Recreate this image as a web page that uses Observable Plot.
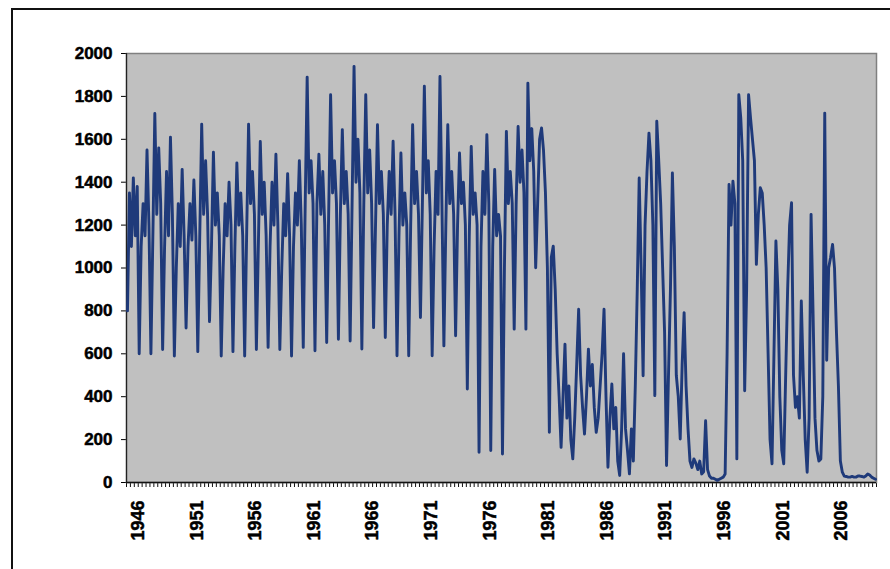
<!DOCTYPE html>
<html><head><meta charset="utf-8">
<script src="https://cdn.jsdelivr.net/npm/d3@7"></script>
<script src="https://cdn.jsdelivr.net/npm/@observablehq/plot@0.6"></script>
<style>
body{margin:0;background:#fff;}
#wrap{position:relative;width:890px;height:569px;overflow:hidden;background:#fff;}
#wrap svg{position:absolute;left:0;top:0;}
#border{position:absolute;left:11px;top:8px;width:900px;height:600px;border-left:2px solid #111;border-top:2px solid #111;pointer-events:none;}
</style></head><body><div id="wrap"><div id="border"></div></div>
<script>
// Six readings per year (two-month steps), first reading early 1945
const startYear = 1945;
const perYear = 6;
const v1940s = [
  800, 1350, 1100, 1420, 1150, 1380,
  600, 1100, 1300, 1150, 1550, 1200,
  600, 1150, 1720, 1250, 1560, 1300,
  620, 1100, 1450, 1150, 1610, 1250,
  590, 1000, 1300, 1100, 1460, 1150
];
const v1950s = [
  720, 1100, 1300, 1130, 1410, 1150,
  610, 1150, 1670, 1250, 1500, 1250,
  750, 1100, 1540, 1200, 1350, 1150,
  590, 1000, 1300, 1150, 1400, 1200,
  610, 1100, 1490, 1200, 1350, 1150,
  590, 1150, 1670, 1300, 1450, 1250,
  620, 1100, 1590, 1250, 1400, 1150,
  630, 1100, 1400, 1200, 1530, 1200,
  620, 1000, 1300, 1150, 1440, 1150,
  590, 1100, 1350, 1200, 1500, 1200
];
const v1960s = [
  630, 1300, 1890, 1350, 1500, 1300,
  614, 1300, 1530, 1250, 1450, 1200,
  653, 1250, 1808, 1350, 1500, 1300,
  668, 1250, 1645, 1300, 1450, 1250,
  660, 1300, 1940, 1400, 1600, 1350,
  622, 1300, 1808, 1350, 1550, 1300,
  722, 1200, 1668, 1300, 1450, 1250,
  676, 1200, 1450, 1250, 1591, 1250,
  591, 1150, 1536, 1200, 1350, 1200,
  591, 1200, 1668, 1300, 1450, 1250
];
const v1970s = [
  769, 1300, 1847, 1350, 1500, 1250,
  591, 1100, 1450, 1250, 1893, 1300,
  637, 1200, 1668, 1300, 1450, 1250,
  684, 1200, 1536, 1300, 1400, 1200,
  436, 1150, 1567, 1250, 1350, 1200,
  141, 1100, 1450, 1250, 1622, 1300,
  149, 1100, 1459, 1150, 1250, 1150,
  133, 1000, 1637, 1300, 1450, 1300,
  715, 1300, 1660, 1400, 1550, 1350,
  715, 1862, 1500, 1650, 1450, 1001
];
const v1980s = [
  1300, 1600, 1653, 1550, 1350, 1000,
  234, 1050, 1102, 900, 600, 400,
  164, 400, 645, 300, 450, 200,
  110, 300, 550, 808, 500, 350,
  226, 400, 622, 450, 550, 350,
  234, 300, 450, 600, 808, 400,
  71, 300, 459, 250, 350, 100,
  33, 250, 600, 250, 150, 40,
  250, 100, 450, 900, 1420, 1000,
  498, 1200, 1450, 1629, 1500, 1200
];
const v1990s = [
  405, 1684, 1500, 1300, 1000, 700,
  79, 500, 900, 1443, 1100, 500,
  400, 203, 550, 792, 450, 250,
  100, 70, 110, 90, 60, 100,
  40, 50, 288, 60, 30, 20,
  20, 15, 10, 15, 20, 25,
  40, 600, 1389, 1200, 1405, 1300,
  110, 1808, 1700, 1500, 428, 900,
  1808, 1700, 1600, 1500, 1017, 1250,
  1374, 1350, 1200, 1000, 600, 200
];
const v2000s = [
  87, 600, 1126, 900, 400, 150,
  87, 500, 900, 1200, 1304, 500,
  350, 400, 300, 846, 500, 200,
  48, 300, 1250, 800, 300, 150,
  100, 110, 400, 1722, 570, 1000,
  1050, 1110, 1000, 700, 450, 100,
  48, 30, 28, 25, 25, 28,
  25, 25, 30, 30, 28, 25,
  30, 40, 35, 25, 20, 15
];
const yTicks = [0, 200, 400, 600, 800, 1000, 1200, 1400, 1600, 1800, 2000];
const xLabelYears = [1946, 1951, 1956, 1961, 1966, 1971, 1976, 1981, 1986, 1991, 1996, 2001, 2006];
const xDomain = [1945, 2009];

const values = [...v1940s, ...v1950s, ...v1960s, ...v1970s, ...v1980s, ...v1990s, ...v2000s];
const data = values.map((v, i) => ({t: startYear + (i + 0.5) / perYear, v}));
const minorTicks = d3.range(0, (xDomain[1] - xDomain[0]) * 3 + 1).map(i => xDomain[0] + i / 3);
const labelSet = new Set(xLabelYears);

const chart = Plot.plot({
  width: 890, height: 569,
  marginLeft: 126, marginRight: 14, marginTop: 53, marginBottom: 87,
  style: {background: "transparent", fontFamily: "'Liberation Sans', Arial, sans-serif", fontSize: "17px", fontWeight: "bold", color: "#000", overflow: "visible"},
  x: {domain: xDomain, ticks: minorTicks, tickSize: 5, tickPadding: 13, tickRotate: -90, label: null,
      tickFormat: d => (Number.isInteger(d) && labelSet.has(d)) ? String(d) : ""},
  y: {domain: [0, 2000], ticks: yTicks, tickSize: 5, tickPadding: 9, label: null, tickFormat: d => String(d)},
  marks: [
    Plot.frame({fill: "#c0c0c0", stroke: "#808080", strokeWidth: 1.5}),
    Plot.ruleX([xDomain[0]], {stroke: "#222", strokeWidth: 1.2}),
    Plot.ruleY([0], {stroke: "#111", strokeWidth: 1.5}),
    Plot.line(data, {x: "t", y: "v", stroke: "#1f3a7a", strokeWidth: 2.9})
  ]
});
const svg = d3.select(chart);
svg.selectAll('g[aria-label^="x-axis"] text').attr("font-size", 18).style("font-size", "18px").attr("stroke", "#000").attr("stroke-width", 0.5);
svg.selectAll('g[aria-label^="y-axis"] text').attr("font-size", 17).style("font-size", "17px").attr("stroke", "#000").attr("stroke-width", 0.5);
svg.selectAll('g[aria-label^="x-axis"] path, g[aria-label^="x-axis"] line').attr("stroke", "#111");
document.getElementById("wrap").prepend(chart);
</script>
</body></html>
